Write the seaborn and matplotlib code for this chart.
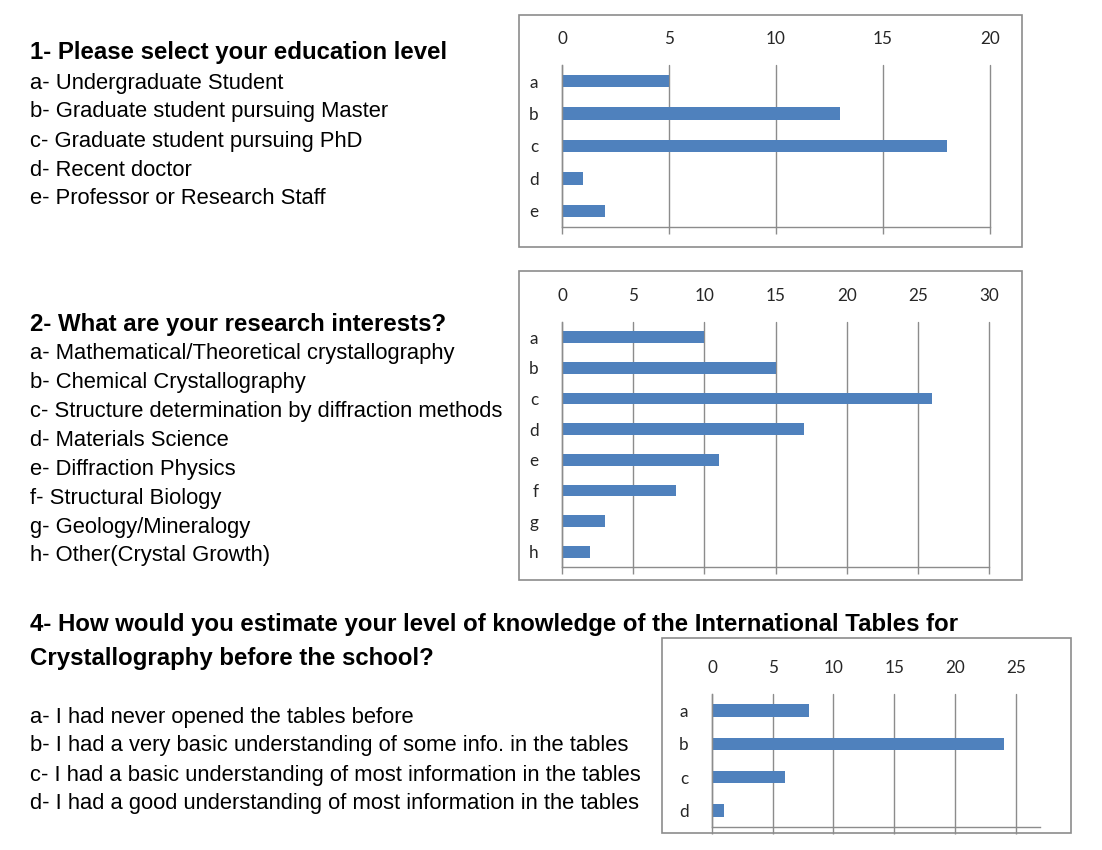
import numpy as np
import pandas as pd
import matplotlib
matplotlib.use("Agg")
import matplotlib.pyplot as plt
from matplotlib.patches import Rectangle
import seaborn as sns

# ---------------- data ----------------
q1_title = "1- Please select your education level"
q1_items = ["a- Undergraduate Student", "b- Graduate student pursuing Master",
            "c- Graduate student pursuing PhD", "d- Recent doctor",
            "e- Professor or Research Staff"]
q1_cats = ["a", "b", "c", "d", "e"]
q1_vals = [5, 13, 18, 1, 2]
q1_ticks = [0, 5, 10, 15, 20]

q2_title = "2- What are your research interests?"
q2_items = ["a- Mathematical/Theoretical crystallography", "b- Chemical Crystallography",
            "c- Structure determination by diffraction methods", "d- Materials Science",
            "e- Diffraction Physics", "f- Structural Biology", "g- Geology/Mineralogy",
            "h- Other(Crystal Growth)"]
q2_cats = ["a", "b", "c", "d", "e", "f", "g", "h"]
q2_vals = [10, 15, 26, 17, 11, 8, 3, 2]
q2_ticks = [0, 5, 10, 15, 20, 25, 30]

q4_title = ["4- How would you estimate your level of knowledge of the International Tables for",
            "Crystallography before the school?"]
q4_items = ["a- I had never opened the tables before",
            "b- I had a very basic understanding of some info. in the tables",
            "c- I had a basic understanding of most information in the tables",
            "d- I had a good understanding of most information in the tables"]
q4_cats = ["a", "b", "c", "d"]
q4_vals = [8, 24, 6, 1]
q4_ticks = [0, 5, 10, 15, 20, 25]

# ---------------- style ----------------
sns.set_theme(style="white")
plt.rcParams['font.family'] = ['Liberation Sans', 'DejaVu Sans']

W, H = 1102, 850
fig = plt.figure(figsize=(W / 100, H / 100), dpi=100)
fig.patch.set_facecolor("white")

BAR = "#4F81BD"
GRID = "#8C8C8C"
TICKFONT = "Lato"
TICKSIZE = 12.3
TITLE_SIZE = 17.3
BODY_SIZE = 15.8


def px_axes(x0, x1, y0, y1):
    return fig.add_axes([x0 / W, 1 - y1 / H, (x1 - x0) / W, (y1 - y0) / H])


def frame(x0, y0, x1, y1):
    fig.add_artist(Rectangle((x0 / W, 1 - y1 / H), (x1 - x0) / W, (y1 - y0) / H,
                             transform=fig.transFigure, fill=False,
                             edgecolor="#8C8C8C", linewidth=1.2))


def text(x, y, s, bold=False, size=BODY_SIZE):
    fig.text(x / W, 1 - (y + 2) / H, s, ha="left", va="center", fontsize=size,
             fontweight="bold" if bold else "normal", color="black")


def chart(ax, cats, vals, ticks, xmax):
    df = pd.DataFrame({"cat": cats, "val": vals})
    sns.barplot(data=df, x="val", y="cat", color=BAR, width=0.38,
                saturation=1, ax=ax, orient="h", linewidth=0)
    n = len(cats)
    ax.set_xlim(0, xmax)
    ax.set_ylim(n - 0.5, -0.5)
    ax.set_xticks(ticks)
    ax.set_xticklabels([str(t) for t in ticks], fontfamily=TICKFONT, fontsize=TICKSIZE)
    ax.set_yticks(range(n))
    ax.set_yticklabels(cats, fontfamily=TICKFONT, fontsize=TICKSIZE)
    ax.set_yticks(np.arange(-0.5, n, 1.0), minor=True)
    ax.tick_params(axis="y", which="major", length=0, pad=17)
    ax.tick_params(axis="y", which="minor", length=6, color=GRID, width=1)
    ax.tick_params(axis="x", which="major", top=False, bottom=True, labeltop=True,
                   labelbottom=False, length=5, color=GRID, width=1, pad=8)
    ax.set_xlabel("")
    ax.set_ylabel("")
    ax.grid(axis="x", color=GRID, linewidth=1)
    for gl in ax.get_xgridlines():
        gl.set_clip_on(False)
    ax.set_axisbelow(True)
    for s in ["top", "right"]:
        ax.spines[s].set_visible(False)
    for s in ["left", "bottom"]:
        ax.spines[s].set_color(GRID)
        ax.spines[s].set_linewidth(1)
    ax.set_facecolor("none")


# ---------------- section 1 ----------------
text(30, 50, q1_title, bold=True, size=TITLE_SIZE)
for i, s in enumerate(q1_items):
    text(30, 81 + 29 * i, s)
frame(519, 15, 1022, 247)
ax1 = px_axes(562, 990, 65, 227)
chart(ax1, q1_cats, q1_vals, q1_ticks, 20)

# ---------------- section 2 ----------------
text(30, 322, q2_title, bold=True, size=TITLE_SIZE)
for i, s in enumerate(q2_items):
    text(30, 351 + 29 * i, s)
frame(519, 271, 1022, 580)
ax2 = px_axes(562, 989, 322, 567)
chart(ax2, q2_cats, q2_vals, q2_ticks, 30)

# ---------------- section 4 ----------------
text(30, 623, q4_title[0], bold=True, size=TITLE_SIZE)
text(30, 656, q4_title[1], bold=True, size=TITLE_SIZE)
for i, s in enumerate(q4_items):
    text(30, 715 + 29 * i, s)
frame(662, 638, 1071, 833)
ax3 = px_axes(712, 1040, 694, 827)
chart(ax3, q4_cats, q4_vals, q4_ticks, 27)

fig.savefig("out.png", dpi=100, facecolor="white")
